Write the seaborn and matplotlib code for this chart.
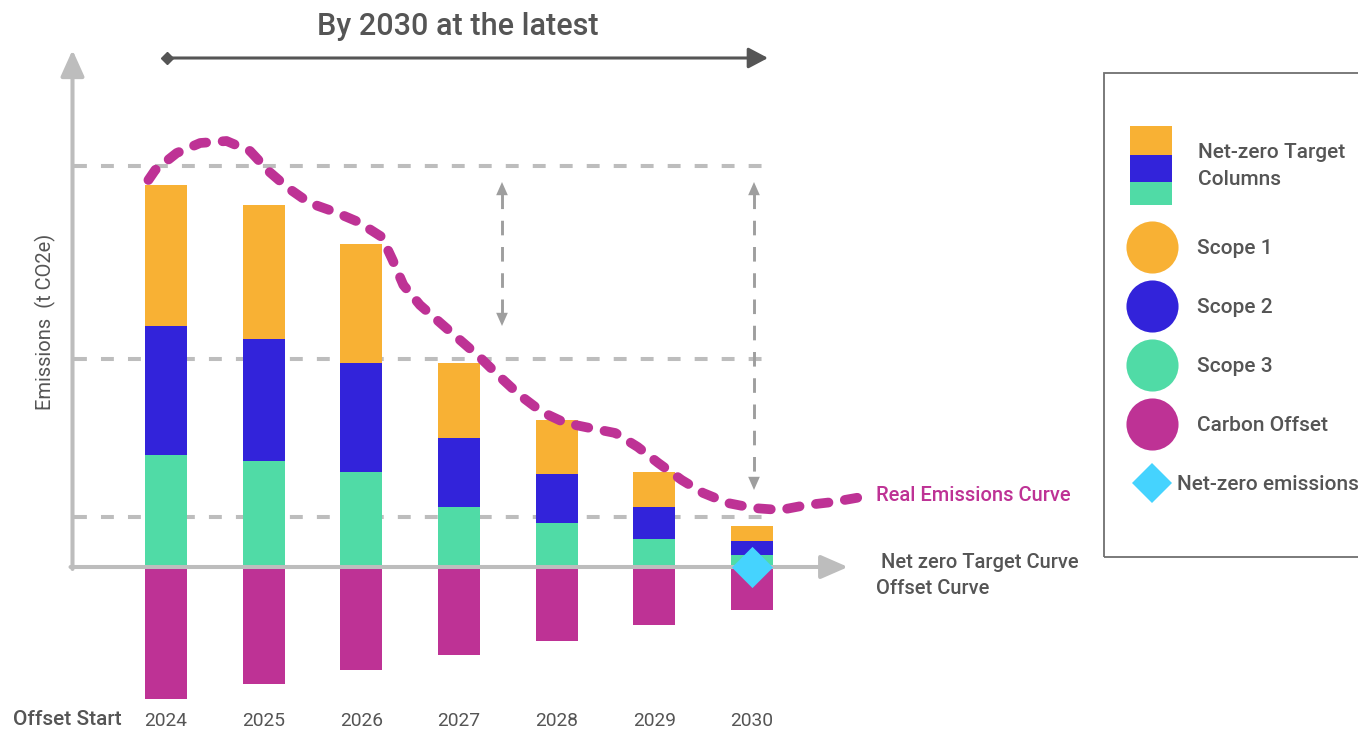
import numpy as np
import pandas as pd
import matplotlib
matplotlib.use("Agg")
import matplotlib.pyplot as plt
from matplotlib.patches import Rectangle
import seaborn as sns

# ---------------- data ----------------
years = [2024, 2025, 2026, 2027, 2028, 2029, 2030]
scope1 = [141, 134, 119, 75, 54, 35, 15]
scope2 = [129, 122, 109, 69, 49, 32, 14]
scope3 = [112, 106, 95, 60, 44, 28, 12]
carbon_offset = [132, 117, 103, 88, 74, 58, 43]
target_levels = [401, 208, 50]
curve_year = [2023.82, 2023.89, 2024.11, 2024.35, 2024.62, 2024.86, 2025.06, 2025.25,
              2025.47, 2025.73, 2025.97, 2026.21, 2026.32, 2026.43, 2026.60, 2026.81,
              2027.01, 2027.21, 2027.42, 2027.62, 2027.85, 2028.09, 2028.34, 2028.60,
              2028.83, 2029.04, 2029.28, 2029.50, 2029.75, 2030.01, 2030.29, 2030.56,
              2030.83, 2031.18]
curve_value = [387, 397, 414, 424, 426, 416, 395, 379, 364, 355, 345, 330, 307, 282,
               262, 244, 227, 210, 190, 172, 155, 144, 139, 134, 120, 104, 87, 74, 64,
               59, 57, 62, 65, 71]
net_zero_year = [2030]
net_zero_value = [0]
year_labels = ["2024", "2025", "2026", "2027", "2028", "2029", "2030"]
legend_labels = ["Scope 1", "Scope 2", "Scope 3", "Carbon Offset"]

ORANGE = "#F8B134"
BLUE = "#3223DA"
GREEN = "#50DBA6"
MAGENTA = "#BE3295"
CYAN = "#45D3FE"
TXT = "#555555"
AXG = "#BDBDBD"
DASHG = "#9E9E9E"

sns.set_style("white")
plt.rcParams["font.family"] = ["Roboto", "DejaVu Sans"]

W, H = 1358, 731
fig = plt.figure(figsize=(W / 100, H / 100), dpi=100)
ax = fig.add_axes([0, 0, 1, 1])

# pixel helpers for decoration placement
PXY = 97.67
def px_x(px):
    return 2024 + (px - 166) / PXY
def px_y(py):
    return 567 - py

df = pd.DataFrame({"year": years, "s1": scope1, "s2": scope2, "s3": scope3,
                   "off": carbon_offset})
df["total"] = df["s1"] + df["s2"] + df["s3"]
df["s23"] = df["s2"] + df["s3"]
df["neg_off"] = -df["off"]

# target level dashed lines (under bars)
for lvl in target_levels:
    ax.plot([px_x(74), px_x(775)], [lvl, lvl], color=AXG, lw=2.9,
            dashes=(3.2, 3.5), zorder=1)

for col, colr in [("total", ORANGE), ("s23", BLUE), ("s3", GREEN), ("neg_off", MAGENTA)]:
    sns.barplot(data=df, x="year", y=col, native_scale=True, width=0.43, color=colr,
                saturation=1, linewidth=0, errorbar=None, ax=ax, zorder=3)

# axes arrows
ax.annotate("", xy=(px_x(72.5), px_y(50)), xytext=(px_x(72.5), px_y(569)),
            arrowprops=dict(arrowstyle="-|>,head_length=1.0,head_width=0.45",
                            mutation_scale=16, color=AXG, lw=2.9, shrinkA=0, shrinkB=0),
            zorder=5)
ax.annotate("", xy=(px_x(848), 0), xytext=(px_x(70.5), 0),
            arrowprops=dict(arrowstyle="-|>,head_length=1.03,head_width=0.45",
                            mutation_scale=16, color=AXG, lw=2.9, shrinkA=0, shrinkB=0),
            zorder=5)

# real emissions curve
sns.lineplot(x=curve_year, y=curve_value, ax=ax, color=MAGENTA, lw=7,
             estimator=None, sort=False, zorder=7)
ln = ax.lines[-1]
ln.set_dashes((1.3, 1.7))
ln.set_dash_capstyle("round")

# net zero diamond
sns.scatterplot(x=net_zero_year, y=net_zero_value, marker="D", s=440, color=CYAN,
                linewidth=0, ax=ax, zorder=6)

# vertical dashed double arrows
for xp, ytop, ybot in [(502, 182, 326), (754, 182, 490)]:
    ax.plot([px_x(xp), px_x(xp)], [px_y(ytop + 12), px_y(ybot - 12)], color=DASHG,
            lw=2.1, dashes=(5, 4), zorder=4)
    for tip, base in [(ytop, ytop + 14), (ybot, ybot - 14)]:
        ax.annotate("", xy=(px_x(xp), px_y(tip)), xytext=(px_x(xp), px_y(base)),
                    arrowprops=dict(arrowstyle="-|>,head_length=0.95,head_width=0.42",
                                    mutation_scale=10, color=DASHG, lw=0,
                                    shrinkA=0, shrinkB=0), zorder=4)

# top period arrow
ax.annotate("", xy=(px_x(768), px_y(58)), xytext=(px_x(167), px_y(58)),
            arrowprops=dict(arrowstyle="-|>,head_length=0.85,head_width=0.45",
                            mutation_scale=14, color=TXT, lw=2.2, shrinkA=0, shrinkB=0),
            zorder=4)
ax.plot([px_x(167)], [px_y(58)], marker="D", ms=6.6, color=TXT, zorder=4)

def label(px, py, s, **kw):
    ax.text(px_x(px), px_y(py), s, **kw)

label(458, 35, "By 2030 at the latest", fontsize=22, fontweight="medium", color=TXT,
      ha="center", va="baseline")
ax.text(px_x(45), px_y(322), "Emissions  (t CO2e)", rotation=90, fontsize=14.5,
        color=TXT, ha="center", va="center")
for yr, lab in zip(years, year_labels):
    ax.text(yr, px_y(726), lab, fontsize=13.8, color=TXT, ha="center", va="baseline")
label(13, 725, "Offset Start", fontsize=15, fontweight="medium", color=TXT,
      ha="left", va="baseline")
label(876, 501, "Real Emissions Curve", fontsize=14.5, fontweight="medium",
      color=MAGENTA, ha="left", va="baseline")
label(881, 568, "Net zero Target Curve", fontsize=14.5, fontweight="medium", color=TXT,
      ha="left", va="baseline")
label(876, 594, "Offset Curve", fontsize=14.5, fontweight="medium", color=TXT,
      ha="left", va="baseline")

# legend box
ax.add_patch(Rectangle((px_x(1104), px_y(557)), 400 / PXY, 484, fill=False,
                       ec="#707070", lw=1.3, zorder=2))
lw_ = 42 / PXY
for y0, y1, c in [(126, 155, ORANGE), (155, 182, BLUE), (182, 205, GREEN)]:
    ax.add_patch(Rectangle((px_x(1130), px_y(y1)), lw_, y1 - y0, color=c, lw=0,
                           zorder=3))
label(1198, 158, "Net-zero Target", fontsize=15, fontweight="medium", color=TXT,
      ha="left", va="baseline")
label(1198, 185, "Columns", fontsize=15, fontweight="medium", color=TXT,
      ha="left", va="baseline")
for cy, c, lab in zip([247, 306, 365, 424], [ORANGE, BLUE, GREEN, MAGENTA], legend_labels):
    ax.plot([px_x(1152)], [px_y(cy)], marker="o", ms=37.5, color=c, mew=0, zorder=3)
    label(1197, cy + 7, lab, fontsize=15, fontweight="medium", color=TXT,
          ha="left", va="baseline")
ax.plot([px_x(1152)], [px_y(483)], marker="D", ms=20.5, color=CYAN, mew=0, zorder=3)
label(1177, 490, "Net-zero emissions", fontsize=15, fontweight="medium", color=TXT,
      ha="left", va="baseline")

ax.set_xlim(px_x(0), px_x(W))
ax.set_ylim(px_y(H), px_y(0))
ax.set_axis_off()
if ax.get_legend() is not None:
    ax.get_legend().remove()

fig.savefig("out.png", dpi=100)
